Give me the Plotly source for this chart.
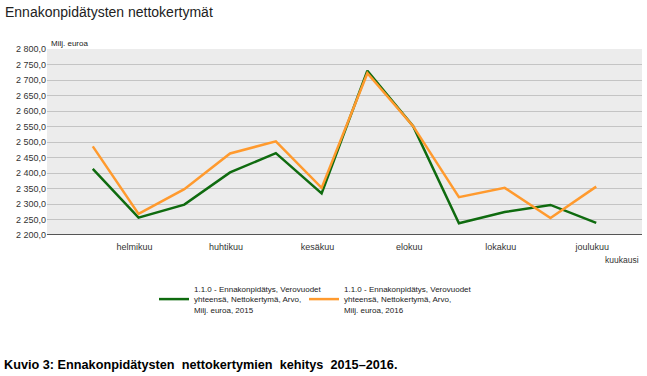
import plotly.graph_objects as go

months = ["tammikuu", "helmikuu", "maaliskuu", "huhtikuu", "toukokuu", "kesäkuu",
          "heinäkuu", "elokuu", "syyskuu", "lokakuu", "marraskuu", "joulukuu"]
shown_months = ["helmikuu", "huhtikuu", "kesäkuu", "elokuu", "lokakuu", "joulukuu"]
v2015 = [2413, 2256, 2298, 2402, 2464, 2334, 2730, 2551, 2238, 2274, 2297, 2239]
v2016 = [2486, 2268, 2348, 2463, 2502, 2352, 2722, 2551, 2322, 2352, 2255, 2356]
ytick_vals = [2200, 2250, 2300, 2350, 2400, 2450, 2500, 2550, 2600, 2650, 2700, 2750, 2800]
ytick_text = ["2 200,0", "2 250,0", "2 300,0", "2 350,0", "2 400,0", "2 450,0", "2 500,0",
              "2 550,0", "2 600,0", "2 650,0", "2 700,0", "2 750,0", "2 800,0"]
name2015 = "1.1.0 - Ennakonpidätys, Verovuodet<br>yhteensä, Nettokertymä, Arvo,<br>Milj. euroa, 2015"
name2016 = "1.1.0 - Ennakonpidätys, Verovuodet<br>yhteensä, Nettokertymä, Arvo,<br>Milj. euroa, 2016"

FONT = "Liberation Sans, Arial, sans-serif"
L, R, T, B = 47, 5, 49, 141
PW, PH = 647 - L - R, 376 - T - B

fig = go.Figure()
fig.add_trace(go.Scatter(x=months, y=v2015, mode="lines", name=name2015, legend="legend",
                         line=dict(color="#0f6b0f", width=2.5)))
fig.add_trace(go.Scatter(x=months, y=v2016, mode="lines", name=name2016, legend="legend2",
                         line=dict(color="#ff9a2e", width=2.5)))

leg_common = dict(orientation="h", xanchor="left", yanchor="top",
                  font=dict(size=8, color="#222"), itemwidth=30,
                  bgcolor="rgba(0,0,0,0)", y=-(277 - (T + PH)) / PH)

fig.update_layout(
    width=647, height=376,
    margin=dict(l=L, r=R, t=T, b=B, pad=0),
    paper_bgcolor="white", plot_bgcolor="#ececec",
    font=dict(family=FONT, size=9, color="#333"),
    showlegend=True,
    legend=dict(x=(154 - L) / PW, **leg_common),
    legend2=dict(x=(304 - L) / PW, **leg_common),
    xaxis=dict(type="category", categoryorder="array", categoryarray=months,
               range=[-1, 12], tickvals=shown_months, ticktext=shown_months,
               showgrid=False, ticks="outside", ticklen=3, tickcolor="rgba(0,0,0,0)",
               ticklabelshift=-4,
               tickfont=dict(size=9, color="#333"),
               showline=False, zeroline=False, fixedrange=True),
    yaxis=dict(range=[2200, 2800], tickvals=ytick_vals, ticktext=ytick_text,
               showgrid=True, gridcolor="#c4c4c4", gridwidth=1,
               tickfont=dict(size=9, color="#333"), ticks="",
               showline=False, zeroline=False, fixedrange=True),
    annotations=[
        dict(text="Ennakonpidätysten nettokertymät", xref="paper", yref="paper",
             x=-(L - 3) / PW, y=1 + (T - 12) / PH, xanchor="left", yanchor="middle",
             showarrow=False, font=dict(size=14, color="#222")),
        dict(text="Milj. euroa", xref="paper", yref="paper", x=2 / PW, y=1 + (T - 43) / PH,
             xanchor="left", yanchor="middle", showarrow=False,
             font=dict(size=8, color="#222")),
        dict(text="kuukausi", xref="paper", yref="paper", x=(641 - L) / PW,
             y=-(260 - (T + PH)) / PH,
             xanchor="right", yanchor="middle", showarrow=False,
             font=dict(size=8.5, color="#333")),
        dict(text="<b>Kuvio 3: Ennakonpidätysten\u00a0 nettokertymien\u00a0 kehitys\u00a0 2015–2016.</b>",
             xref="paper", yref="paper", x=-(L - 2) / PW, y=-(365 - (T + PH)) / PH,
             xanchor="left", yanchor="middle", showarrow=False,
             font=dict(size=12.7, color="#000")),
    ],
    shapes=[dict(type="line", xref="paper", yref="y", x0=0, x1=1, y0=2200, y1=2200,
                 line=dict(color="#555", width=2))],
)

fig.write_html("out.html", config={"displayModeBar": False},
               post_script="document.body.style.margin='0';")
